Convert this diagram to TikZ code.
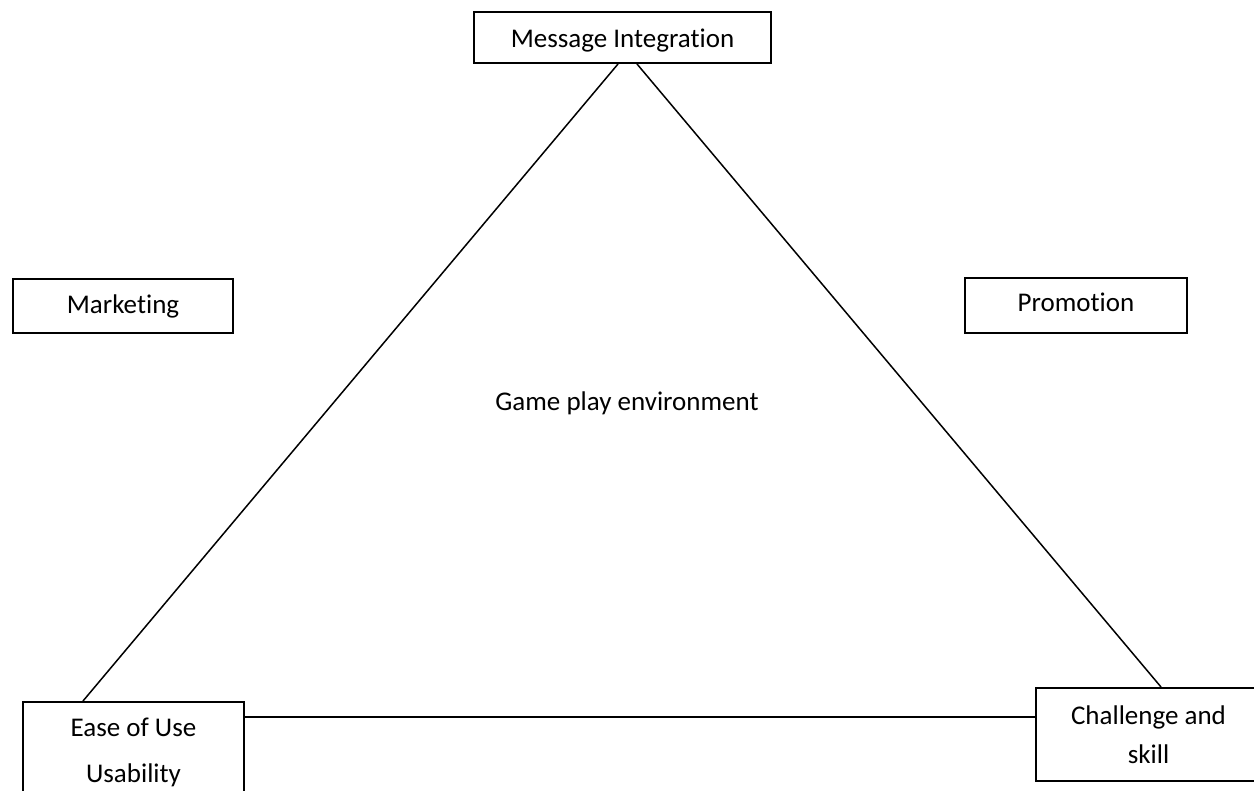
\documentclass[tikz,border=0pt]{standalone}
\usepackage{fontspec}
\setmainfont{Carlito}[Ligatures=NoCommon]
\usetikzlibrary{calc}
\tikzset{
  box/.style={draw=black, line width=1pt, rectangle, inner sep=0pt, anchor=north west,
              align=center, font=\fontsize{13.5}{16}\selectfont},
  link/.style={draw=black, line width=0.75pt},
  label/.style={font=\fontsize{13.5}{16}\selectfont, inner sep=0pt, anchor=base}
}
\begin{document}
\begin{tikzpicture}[x=0.5pt, y=-0.5pt]
  \useasboundingbox (0,0) rectangle (1254,791);
  \clip (0,0) rectangle (1254,791);

  % corner boxes of the triangle
  \node[box, minimum width=148.5pt, text height=18pt, text depth=7.5pt] (mi) at (473,11) {Message Integration};
  \node[box, minimum width=110.5pt, text height=40pt, text depth=9.5pt,
        font=\fontsize{13.5}{23}\selectfont] (ease) at (22,701) {Ease of Use\\Usability};
  \node[box, minimum width=112.5pt, text height=37.5pt, text depth=9pt,
        font=\fontsize{13.5}{19.5}\selectfont] (chal) at (1035,687) {Challenge and\\skill};

  % side boxes
  \node[box, minimum width=110pt, text height=17.5pt, text depth=9.5pt] (mkt) at (12,278) {Marketing};
  \node[box, minimum width=111pt, text height=17pt, text depth=10.5pt] (promo) at (964,277) {Promotion};

  % centre label
  \node[label] (env) at (627,410) {Game play environment};

  % triangle sides
  \draw[link] ($(mi.south west)+(145,0)$) -- ($(ease.north west)+(61,0)$);
  \draw[link] ($(mi.south west)+(164,0)$) -- ($(chal.north west)+(126,0)$);
  \draw[link] ($(ease.north east)+(0,16)$) -- ($(chal.north west)+(0,30)$);
\end{tikzpicture}
\end{document}
